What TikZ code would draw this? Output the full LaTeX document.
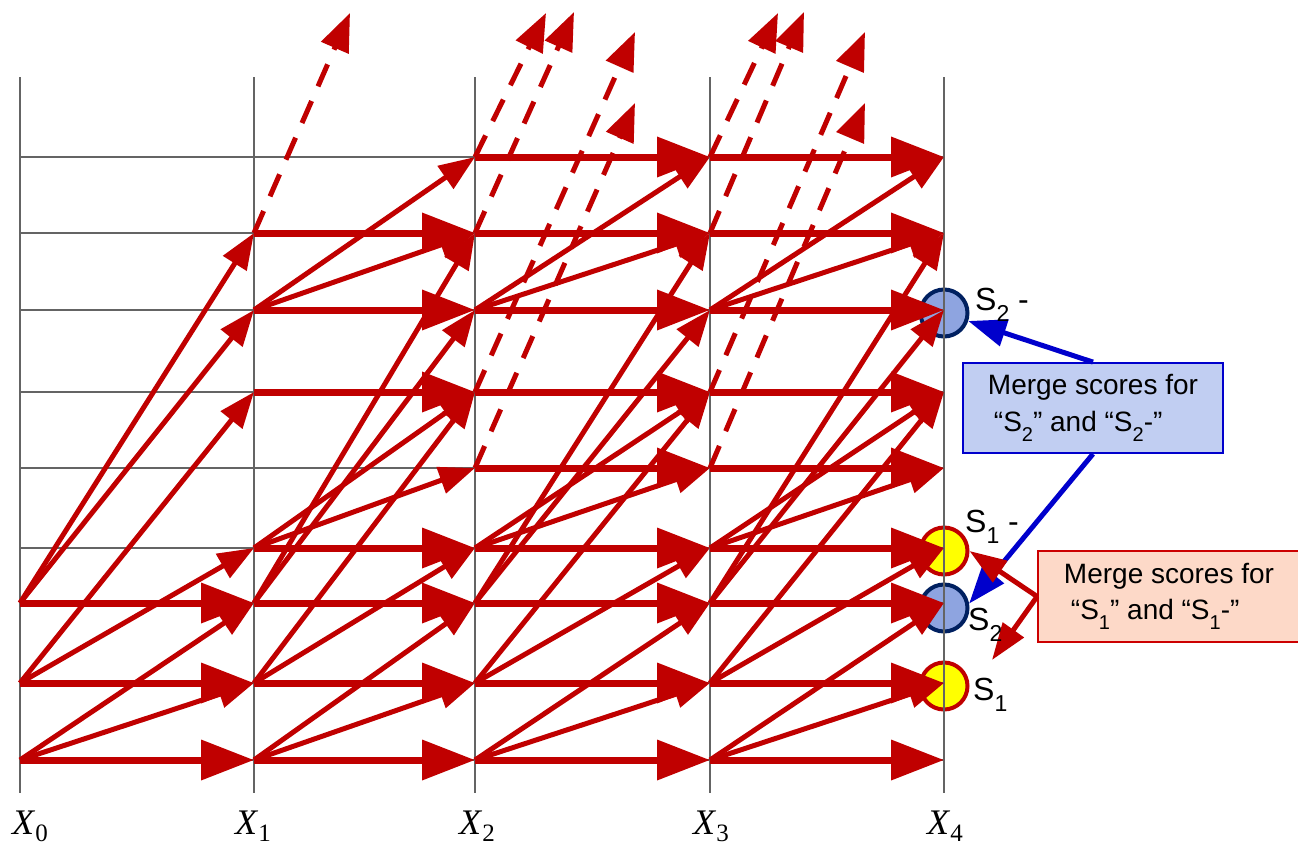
\documentclass[tikz,border=0pt]{standalone}
\usepackage{fontspec}
\newfontfamily\sans{Liberation Sans}
\newfontfamily\serif{Liberation Serif}
\usetikzlibrary{arrows.meta}
\definecolor{lred}{RGB}{192,0,0}
\definecolor{gridc}{RGB}{100,100,100}
\definecolor{bfill}{RGB}{142,164,224}
\definecolor{bdraw}{RGB}{0,32,96}
\definecolor{yfill}{RGB}{255,255,0}
\definecolor{boxblue}{RGB}{193,206,242}
\definecolor{boxbluedraw}{RGB}{0,0,204}
\definecolor{arrblue}{RGB}{0,0,204}
\definecolor{peach}{RGB}{253,217,200}
\definecolor{peachdraw}{RGB}{204,0,0}
\newcommand{\lsub}[1]{\raisebox{-11pt}{\fontsize{23}{23}\selectfont #1}}
\newcommand{\bsub}[1]{\raisebox{-10pt}{\fontsize{20}{20}\selectfont #1}}
\newcommand{\xsub}[1]{\raisebox{-7pt}{\fontsize{25}{25}\selectfont #1}}
\begin{document}
\begin{tikzpicture}[x=1pt,y=-1pt,
  hor/.style={draw=lred, line width=7pt, -{Triangle[length=53pt,width=39pt]}},
  dia/.style={draw=lred, line width=5pt, -{Triangle[length=36pt,width=27pt]}},
  dsh/.style={draw=lred, line width=5pt, dash pattern=on 24pt off 16pt, -{Triangle[length=38pt,width=29pt]}},
  gridline/.style={draw=gridc, line width=2pt},
  bcirc/.style={circle, fill=bfill, draw=bdraw, line width=4pt, minimum size=47pt, inner sep=0pt},
  ycirc/.style={circle, fill=yfill, draw=lred, line width=4pt, minimum size=47pt, inner sep=0pt},
  lab/.style={anchor=base west, inner sep=0pt, font=\sans\fontsize{32}{36}\selectfont},
  xl/.style={anchor=base west, inner sep=0pt, font=\serif\fontsize{36}{40}\selectfont},
  bbox/.style={draw=boxbluedraw, fill=boxblue, line width=1.8pt, minimum width=260pt, minimum height=90pt, align=left, inner sep=0pt, font=\sans\fontsize{28}{37}\selectfont},
  pbox/.style={draw=peachdraw, fill=peach, line width=1.8pt, minimum width=262pt, minimum height=91pt, align=left, inner sep=0pt, font=\sans\fontsize{28}{36}\selectfont},
  barr/.style={draw=arrblue, line width=5pt, -{Triangle[length=38pt,width=27pt]}},
  parr/.style={draw=lred, line width=5pt, -{Triangle[length=37pt,width=25pt]}}
]
\useasboundingbox (0,0) rectangle (1298,847);

% end-state circles
\node[bcirc] (s2m) at (944,313) {};
\node[ycirc] (s1m) at (944,551) {};
\node[bcirc] (s2) at (944,608) {};
\node[ycirc] (s1) at (944,686) {};

% grid
\foreach \x in {20,254,475,710,944} \draw[gridline] (\x,77) -- (\x,793);
\foreach \y in {760,683,603,548,468,392,310,233,157} \draw[gridline] (20,\y) -- (944,\y);

% lattice points
\foreach \c/\x in {0/20,1/254,2/475,3/710,4/944}{
  \foreach \r/\y in {0/760,1/683,2/603,3/548,4/468,5/392,6/310,7/233,8/157}{
    \coordinate (n\c\r) at (\x,\y);}}

% band X0 -> X1
\foreach \r in {0,1,2} \draw[hor] (n0\r) -- (n1\r);
\foreach \s/\t in {0/1,0/2,1/3,1/5,2/6,2/7} \draw[dia] (n0\s) -- (n1\t);
% band X1 -> X2
\foreach \r in {0,1,2,3,5,6,7} \draw[hor] (n1\r) -- (n2\r);
\foreach \s/\t in {0/1,0/2,1/3,1/5,2/6,2/7,3/4,3/5,6/7,6/8} \draw[dia] (n1\s) -- (n2\t);
% bands X2 -> X3, X3 -> X4
\foreach \c/\d in {2/3,3/4}{
  \foreach \r in {0,...,8} \draw[hor] (n\c\r) -- (n\d\r);
  \foreach \s/\t in {0/1,0/2,1/3,1/5,2/6,2/7,3/4,3/5,6/7,6/8} \draw[dia] (n\c\s) -- (n\d\t);}

% dashed exits
\coordinate (d17) at (350,13);
\coordinate (d28) at (546,13);
\coordinate (d27) at (574,12);
\coordinate (d25) at (635,32);
\coordinate (d24) at (635,103);
\coordinate (d38) at (778,13);
\coordinate (d37) at (804,12);
\coordinate (d35) at (865,32);
\coordinate (d34) at (865,103);
\draw[dsh] (n17) -- (d17);
\foreach \c in {2,3}{
  \foreach \r in {8,7,5,4} \draw[dsh] (n\c\r) -- (d\c\r);}

% merge boxes
\node[bbox] (mb) at (1093,408) {Merge scores for\\\hspace*{6pt}“S\bsub{2}” and “S\bsub{2}-”};
\node[pbox] (mp) at (1169,596.5) {Merge scores for\\\hspace*{7pt}“S\bsub{1}” and “S\bsub{1}-”};
\coordinate (pend) at (992,660);
\draw[barr] (mb.north) -- (s2m);
\draw[barr] (mb.south) -- (s2.10);
\draw[parr] (mp.west) -- (s1m.east);
\draw[parr] (mp.west) -- (pend);

% labels
\node[lab] (l2m) at (975,310) {S\lsub{2} -};
\node[lab] (l1m) at (965,532) {S\lsub{1} -};
\node[lab] (l2) at (968,630) {S\lsub{2}};
\node[lab] (l1) at (973,700) {S\lsub{1}};

\node[xl] (x0) at (12,834) {\textit{X}\xsub{0}};
\node[xl] (x1) at (235,834) {\textit{X}\xsub{1}};
\node[xl] (x2) at (459,834) {\textit{X}\xsub{2}};
\node[xl] (x3) at (693,834) {\textit{X}\xsub{3}};
\node[xl] (x4) at (927,834) {\textit{X}\xsub{4}};
\end{tikzpicture}
\end{document}
